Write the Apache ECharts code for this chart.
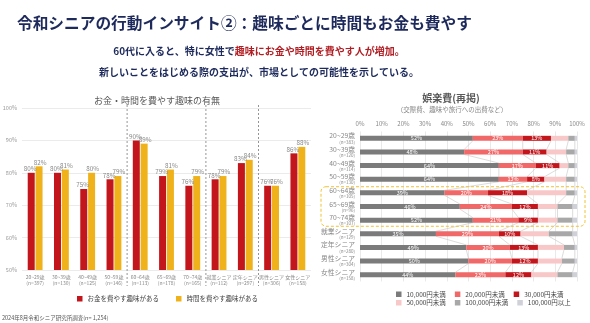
<!DOCTYPE html>
<html><head><meta charset="utf-8">
<script src="https://cdn.jsdelivr.net/npm/echarts@6/dist/echarts.min.js"></script>
<style>html,body{margin:0;padding:0;background:#fff}#c{width:590px;height:323px}</style>
</head><body><div id="c"></div>
<script>
// ---- data ----
const leftCategories = ['20~29歳','30~39歳','40~49歳','50~59歳','60~64歳','65~69歳','70~74歳','就業シニア','定年シニア','男性シニア','女性シニア'];
const leftN = [397,130,125,146,113,178,165,112,297,306,158];
const moneyHobby = [80,80,75,78,90,79,76,78,83,76,86];
const timeHobby  = [82,81,80,79,89,81,79,79,84,76,88];
const leftSeparatorsAfter = [3,6,8];

const rightCategories = ['20~29歳','30~39歳','40~49歳','50~59歳','60~64歳','65~69歳','70~74歳','就業シニア','定年シニア','男性シニア','女性シニア'];
const rightN = [383,120,114,130,105,96,107,129,280,304,158];
const under10k  = [52,48,64,64,39,46,52,35,49,50,44];
const under20k  = [23,27,17,13,20,24,21,29,20,20,23];
const under30k  = [13,11,11,8,18,12,9,10,13,12,12];
const under50k  = [8,9,4,10,18,9,9,13,12,11,12];
const under100k = [3,4,3,4,4,7,7,11,5,6,7];
const over100k  = [1,1,1,1,1,2,2,2,1,1,2];
const rightSeriesNames = ['10,000円未満','20,000円未満','30,000円未満','50,000円未満','100,000円未満','100,000円以上'];
const highlightRows = [4,6];

// ---- chart ----
const FONT = '"Noto Sans CJK JP","Noto Sans",sans-serif';
const chart = echarts.init(document.getElementById('c'), null, {renderer:'canvas'});
const rightData = [under10k, under20k, under30k, under50k, under100k, over100k];
const rightColors = ['#7b7b7b','#f06868','#c3161c','#f8c8c8','#a8a8a8','#cfd0d8'];

// cumulative boundaries for connector lines
const connectorData = [];
for (let i = 0; i < rightCategories.length - 1; i++) {
  let a = 0, b = 0;
  for (let k = 0; k < rightData.length - 1; k++) {
    a += rightData[k][i]; b += rightData[k][i+1];
    connectorData.push([a, i, b, i+1]);
  }
}

const series = [
  {name:'お金を費やす趣味がある', type:'bar', xAxisIndex:0, yAxisIndex:0, data:moneyHobby, barWidth:7, barGap:'12%',
   itemStyle:{color:'#c3161c'},
   label:{show:true, position:'top', distance:1, formatter:'{c}%', fontSize:6.3, color:'#888', fontFamily:FONT, offset:[-1,0]}},
  {name:'時間を費やす趣味がある', type:'bar', xAxisIndex:0, yAxisIndex:0, data:timeHobby, barWidth:7,
   itemStyle:{color:'#f0b21a'},
   label:{show:true, position:'top', distance:1, formatter:'{c}%', fontSize:6.3, color:'#888', fontFamily:FONT, offset:[1,0]}},
  {type:'custom', xAxisIndex:1, yAxisIndex:1, data:connectorData, z:1, silent:true,
   renderItem:function(params, api){
     const p1 = api.coord([api.value(0), api.value(1)]);
     const p2 = api.coord([api.value(2), api.value(3)]);
     return {type:'line', shape:{x1:p1[0], y1:p1[1]+2.5, x2:p2[0], y2:p2[1]-2.5},
             style:{stroke:'#c4c4c4', lineWidth:0.6}};
   }}
];
rightData.forEach((arr, k) => {
  series.push({name:rightSeriesNames[k], type:'bar', stack:'r', xAxisIndex:1, yAxisIndex:1, data:arr, barWidth:5, z:3,
    itemStyle:{color:rightColors[k]},
    label:{show:k<3, position:'inside', formatter:'{c}%', fontSize:5.5, color:'#fff', fontFamily:FONT}});
});

const legendCommon = {icon:'rect', itemWidth:5.5, itemHeight:5.5, textStyle:{fontSize:6.5, color:'#444', fontFamily:FONT}, selectedMode:false};

chart.setOption({
  animation:false,
  textStyle:{fontFamily:FONT},
  grid:[
    {left:22, right:279, top:108, height:162, containLabel:false, outerBoundsMode:'none'},
    {left:360, right:13, top:131.5, height:150, containLabel:false, outerBoundsMode:'none'}
  ],
  xAxis:[
    {type:'category', gridIndex:0, data:leftCategories.map((c,i)=>c+'\n'+'(n='+leftN[i]+')'),
     axisLine:{show:false}, axisTick:{show:false},
     axisLabel:{interval:0, margin:4, fontSize:5, lineHeight:6, color:'#888', fontFamily:FONT}},
    {type:'value', gridIndex:1, position:'top', min:0, max:100, interval:10,
     axisLine:{show:false}, axisTick:{show:false},
     axisLabel:{formatter:'{value}%', fontSize:6, color:'#888', margin:5, fontFamily:FONT},
     splitLine:{lineStyle:{color:'#e3e3e3', width:0.8}}}
  ],
  yAxis:[
    {type:'value', gridIndex:0, min:50, max:100, interval:10,
     axisLine:{show:false}, axisTick:{show:false},
     axisLabel:{formatter:'{value}%', fontSize:5.5, color:'#999', margin:5, fontFamily:FONT},
     splitLine:{lineStyle:{color:'#e6e6e6', width:0.8}}},
    {type:'category', gridIndex:1, inverse:true, data:rightCategories.map((c,i)=>'{a|'+c+'}\n{b|(n='+rightN[i]+')}'),
     axisLine:{show:false}, axisTick:{show:false},
     axisLabel:{interval:0, margin:5, color:'#888', fontFamily:FONT,
       rich:{a:{fontSize:6.8, lineHeight:7, color:'#888', align:'right'}, b:{fontSize:4.5, lineHeight:5, color:'#888', align:'right'}}}}
  ],
  legend:[
    Object.assign({data:['お金を費やす趣味がある','時間を費やす趣味がある'], left:72, top:290.5, itemGap:17}, legendCommon),
    Object.assign({data:rightSeriesNames.slice(0,3), left:391, top:286, itemGap:9, textStyle:{fontSize:6.5, color:'#444', width:46, fontFamily:FONT}}, {icon:'rect', itemWidth:5.5, itemHeight:5.5, selectedMode:false}),
    Object.assign({data:rightSeriesNames.slice(3), left:391, top:294.5, itemGap:9, textStyle:{fontSize:6.5, color:'#444', width:46, fontFamily:FONT}}, {icon:'rect', itemWidth:5.5, itemHeight:5.5, selectedMode:false})
  ],
  series:series
});

// ---- decorations computed from the axes ----
const graphics = [
  {type:'text', left:17, top:15, style:{text:'令和シニアの行動インサイト②：趣味ごとに時間もお金も費やす', fontSize:15.7, fontWeight:'bold', fill:'#1d2a5b', fontFamily:FONT}},
  {type:'text', x:259, y:51, style:{text:'{n|60代に入ると、特に女性で}{r|趣味にお金や時間を費やす人が増加。}', align:'center', verticalAlign:'middle',
     rich:{n:{fontSize:10, fontWeight:'bold', fill:'#1d2a5b', fontFamily:FONT}, r:{fontSize:10, fontWeight:'bold', fill:'#b01e23', fontFamily:FONT}}}},
  {type:'text', x:259, y:72, style:{text:'新しいことをはじめる際の支出が、市場としての可能性を示している。', align:'center', verticalAlign:'middle', fontSize:10, fontWeight:'bold', fill:'#1d2a5b', fontFamily:FONT}},
  {type:'text', x:157, y:101, style:{text:'お金・時間を費やす趣味の有無', align:'center', verticalAlign:'middle', fontSize:9, fill:'#595959', fontFamily:FONT}},
  {type:'text', x:451, y:98, style:{text:'娯楽費(再掲)', align:'center', verticalAlign:'middle', fontSize:10, fontWeight:'bold', fill:'#595959', fontFamily:FONT}},
  {type:'text', x:452, y:110, style:{text:'（交際費、趣味や旅行への出費など）', align:'center', verticalAlign:'middle', fontSize:6.5, fill:'#888', fontFamily:FONT}},
  {type:'text', x:2, y:318, style:{text:'2024年8月令和シニア研究所調査(n= 1,254)', verticalAlign:'middle', fontSize:5.5, fill:'#555', fontFamily:FONT}}
];
leftSeparatorsAfter.forEach(idx => {
  const x = (chart.convertToPixel({xAxisIndex:0}, idx) + chart.convertToPixel({xAxisIndex:0}, idx+1)) / 2;
  graphics.push({type:'line', shape:{x1:x, y1:105, x2:x, y2:286}, style:{stroke:'#8a8a8a', lineWidth:0.9, lineDash:[2,2]}});
});
const yTop = chart.convertToPixel({yAxisIndex:1}, highlightRows[0]);
const yBot = chart.convertToPixel({yAxisIndex:1}, highlightRows[1]);
const step = chart.convertToPixel({yAxisIndex:1}, 1) - chart.convertToPixel({yAxisIndex:1}, 0);
graphics.push({type:'rect', shape:{x:321, y:yTop - step*0.45, width:264, height:(yBot-yTop)+step*0.9, r:5},
  style:{fill:'none', stroke:'#f2c230', lineWidth:1, lineDash:[3,2]}, z:10});
chart.setOption({graphic:graphics});
</script>
</body></html>
